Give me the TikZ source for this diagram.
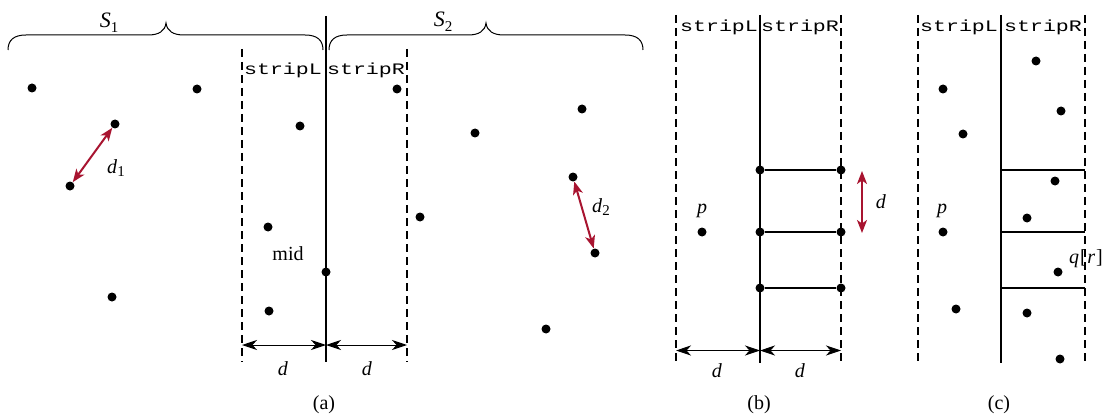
\documentclass[tikz,border=0pt]{standalone}
\usepackage{fontspec}
\setmainfont{Liberation Serif}
\newfontfamily\stripfont[FakeStretch=1.35]{Liberation Mono}
\usetikzlibrary{arrows.meta}
\definecolor{dred}{RGB}{168,20,48}
\newcommand\mysub[1]{\raisebox{-0.4ex}{\fontsize{15}{15}\selectfont #1}}
\begin{document}
\begin{tikzpicture}[x=1pt,y=-1pt,
  dot/.style={circle,fill=black,inner sep=0pt,minimum size=9pt},
  lbl/.style={inner sep=0pt,anchor=base,font=\fontsize{20}{24}\selectfont},
  biglbl/.style={inner sep=0pt,anchor=base,font=\fontsize{22}{26}\selectfont},
  striplbl/.style={inner sep=0pt,anchor=base,font=\fontsize{16}{20}\stripfont},
  dashline/.style={line width=1.1pt,dash pattern=on 8pt off 5pt},
  solidline/.style={line width=1.1pt},
  hline/.style={line width=1.1pt},
  dimarrow/.style={line width=1pt,{Stealth[length=15pt,width=10pt,inset=4.5pt]}-{Stealth[length=15pt,width=10pt,inset=4.5pt]}},
  redarrow/.style={dred,line width=2pt,{Stealth[length=13pt,width=10pt,inset=3.5pt]}-{Stealth[length=13pt,width=10pt,inset=3.5pt]}},
  bracestyle/.style={line width=1pt}]
\useasboundingbox (0,0) rectangle (1108,417);

% ---------------- panel (a) ----------------
% braces
\draw[bracestyle] (8,50) .. controls (8,40) and (14,35) .. (26,35) -- (148,35)
  .. controls (159,35) and (165,31) .. (166,23) .. controls (167,31) and (173,35) .. (184,35)
  -- (305,35) .. controls (317,35) and (323,40) .. (323,50);
\draw[bracestyle] (329,50) .. controls (329,40) and (335,35) .. (347,35) -- (468,35)
  .. controls (479,35) and (485,31) .. (486,23) .. controls (487,31) and (493,35) .. (504,35)
  -- (625,35) .. controls (637,35) and (643,40) .. (643,50);
\node[biglbl] (s1) at (109,28) {\textit{S}\mysub{1}};
\node[biglbl] (s2) at (443,27) {\textit{S}\mysub{2}};

% strip lines
\coordinate (aLt) at (242,49); \coordinate (aLb) at (242,362);
\coordinate (aMt) at (326,16); \coordinate (aMb) at (326,362);
\coordinate (aRt) at (407,49); \coordinate (aRb) at (407,362);
\draw[dashline] (aLt) -- (aLb);
\draw[dashline] (aRt) -- (aRb);
\draw[solidline] (aMt) -- (aMb);
\node[striplbl] (aSL) at (283,75) {stripL};
\node[striplbl] (aSR) at (366,75) {stripR};

% points
\node[dot] (a1) at (32,88) {};
\node[dot] (a2) at (197,89) {};
\node[dot] (a3) at (115,124) {};
\node[dot] (a4) at (70,186) {};
\node[dot] (a5) at (300,126) {};
\node[dot] (a6) at (268,227) {};
\node[dot] (a7) at (112,297) {};
\node[dot] (a8) at (269,311) {};
\node[dot] (amid) at (326,272) {};
\node[dot] (a9) at (397,89) {};
\node[dot] (a10) at (475,133) {};
\node[dot] (a11) at (582,109) {};
\node[dot] (a12) at (420,217) {};
\node[dot] (a13) at (573,177) {};
\node[dot] (a14) at (595,253) {};
\node[dot] (a15) at (546,329) {};

\draw[redarrow] (a3) -- (a4);
\draw[redarrow] (a13) -- (a14);
\node[lbl] (d1) at (116,173) {\textit{d}\mysub{1}};
\node[lbl] (d2) at (601,212) {\textit{d}\mysub{2}};
\node[lbl] (mid) at (288,260) {mid};

\coordinate (aDL) at (242,345); \coordinate (aDM) at (326,345); \coordinate (aDR) at (407,345);
\draw[dimarrow] (aDL) -- (aDM);
\draw[dimarrow] (aDM) -- (aDR);
\node[lbl] (ad1) at (283,375) {\textit{d}};
\node[lbl] (ad2) at (367,375) {\textit{d}};
\node[lbl] (capa) at (324,409) {(a)};

% ---------------- panel (b) ----------------
\coordinate (bLt) at (676,15); \coordinate (bLb) at (676,363);
\coordinate (bMt) at (760,15); \coordinate (bMb) at (760,363);
\coordinate (bRt) at (841,15); \coordinate (bRb) at (841,363);
\draw[dashline] (bLt) -- (bLb);
\draw[dashline] (bRt) -- (bRb);
\draw[solidline] (bMt) -- (bMb);
\node[striplbl] (bSL) at (719,32) {stripL};
\node[striplbl] (bSR) at (800,32) {stripR};

\node[dot] (b1l) at (760,170) {}; \node[dot] (b1r) at (841,170) {};
\node[dot] (b2l) at (760,232) {}; \node[dot] (b2r) at (841,232) {};
\node[dot] (b3l) at (760,288) {}; \node[dot] (b3r) at (841,288) {};
\draw[hline] (b1l) -- (b1r);
\draw[hline] (b2l) -- (b2r);
\draw[hline] (b3l) -- (b3r);

\node[dot] (bp) at (702,232) {};
\node[lbl] (bplbl) at (702,213) {\textit{p}};

\coordinate (bAt) at (862,171); \coordinate (bAb) at (862,233);
\draw[redarrow] (bAt) -- (bAb);
\node[lbl] (bdr) at (881,208) {\textit{d}};

\coordinate (bDL) at (676,350.5); \coordinate (bDM) at (760,350.5); \coordinate (bDR) at (841,350.5);
\draw[dimarrow] (bDL) -- (bDM);
\draw[dimarrow] (bDM) -- (bDR);
\node[lbl] (bd1) at (717,377) {\textit{d}};
\node[lbl] (bd2) at (800,377) {\textit{d}};
\node[lbl] (capb) at (759,409) {(b)};

% ---------------- panel (c) ----------------
\coordinate (cLt) at (918,15); \coordinate (cLb) at (918,363);
\coordinate (cMt) at (1001,15); \coordinate (cMb) at (1001,363);
\coordinate (cRt) at (1085,15); \coordinate (cRb) at (1085,363);
\draw[dashline] (cLt) -- (cLb);
\draw[dashline] (cRt) -- (cRb);
\draw[solidline] (cMt) -- (cMb);
\node[striplbl] (cSL) at (959,32) {stripL};
\node[striplbl] (cSR) at (1043,32) {stripR};

\coordinate (c1l) at (1001,170); \coordinate (c1r) at (1085,170);
\coordinate (c2l) at (1001,232); \coordinate (c2r) at (1085,232);
\coordinate (c3l) at (1001,288); \coordinate (c3r) at (1085,288);
\draw[hline] (c1l) -- (c1r);
\draw[hline] (c2l) -- (c2r);
\draw[hline] (c3l) -- (c3r);

\node[dot] (c1) at (943,89) {};
\node[dot] (c2) at (963,134) {};
\node[dot] (c3) at (1036,61) {};
\node[dot] (c4) at (1061,111) {};
\node[dot] (c5) at (1055,181) {};
\node[dot] (cp) at (943,232) {};
\node[dot] (c6) at (1027,218) {};
\node[dot] (cq) at (1058,272) {};
\node[dot] (c7) at (956,309) {};
\node[dot] (c8) at (1027,313) {};
\node[dot] (c9) at (1060,359) {};
\node[lbl] (cplbl) at (942,213) {\textit{p}};
\node[lbl] (cqlbl) at (1086,263) {\textit{q}\kern1pt[\kern0.5pt\textit{r}\/\kern1pt]};
\node[lbl] (capc) at (999,409) {(c)};
\end{tikzpicture}
\end{document}
